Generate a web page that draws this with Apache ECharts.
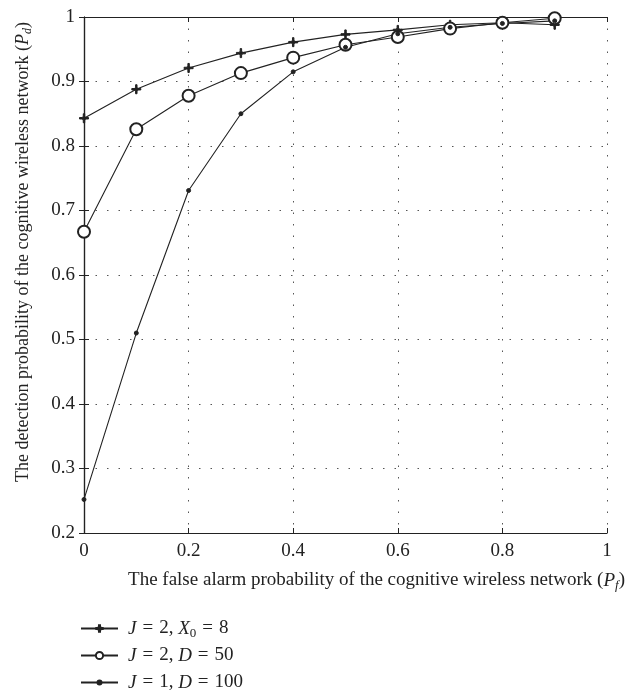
<!DOCTYPE html>
<html>
<head>
<meta charset="utf-8">
<script src="https://cdn.jsdelivr.net/npm/echarts@6/dist/echarts.min.js"></script>
<style>
html,body{margin:0;padding:0;background:#fff;}
#main{width:636px;height:692px;}
</style>
</head>
<body>
<div id="main"></div>
<script>
// false alarm probability (x)
var pfValues = [0, 0.1, 0.2, 0.3, 0.4, 0.5, 0.6, 0.7, 0.8, 0.9];
// detection probability, J = 2, X0 = 8
var pdStar = [0.843, 0.888, 0.921, 0.944, 0.961, 0.973, 0.980, 0.988, 0.991, 0.988];
// detection probability, J = 2, D = 50
var pdCircle = [0.667, 0.826, 0.878, 0.913, 0.937, 0.957, 0.969, 0.982, 0.991, 0.998];
// detection probability, J = 1, D = 100
var pdDot = [0.252, 0.510, 0.731, 0.850, 0.915, 0.953, 0.974, 0.984, 0.990, 0.994];
var seriesNames = ['J = 2, X0 = 8', 'J = 2, D = 50', 'J = 1, D = 100'];
var legendRich = {
	'J = 2, X0 = 8': '{g|}{i|J}{e|=}2, {i|X}{s|0}{e|=}8',
	'J = 2, D = 50': '{g|}{i|J}{e|=}2, {i|D}{e|=}50',
	'J = 1, D = 100': '{g|}{i|J}{e|=}1, {i|D}{e|=}100'
};

var FONT = '"Liberation Serif", "DejaVu Serif", serif';
var INK = '#222';
var FS = 19;

function pairs(ys) {
	var out = [];
	for (var i = 0; i < ys.length; i++) {
		out.push([pfValues[i], ys[i]]);
	}
	return out;
}

// small asterisk: plus with a thicker centre
var starPath = 'path://M4.2,0 L5.8,0 L5.8,3.5 L6.5,3.5 L6.5,4.2 L10,4.2 L10,5.8 L6.5,5.8 L6.5,6.5 L5.8,6.5 L5.8,10 L4.2,10 L4.2,6.5 L3.5,6.5 L3.5,5.8 L0,5.8 L0,4.2 L3.5,4.2 L3.5,3.5 L4.2,3.5 Z';

function nameRich(size) {
	return {
		n: {fontFamily: FONT, fontSize: size, color: INK},
		i: {fontFamily: FONT, fontSize: size, fontStyle: 'italic', color: INK},
		s: {fontFamily: FONT, fontSize: size - 6, fontStyle: 'italic', color: INK, padding: [10, 0, 0, 0]}
	};
}
var legendRichText = {
	g: {width: 5},
	i: {fontFamily: FONT, fontSize: FS, fontStyle: 'italic', color: INK},
	e: {fontFamily: FONT, fontSize: FS, color: INK, padding: [0, 6, 0, 6]},
	s: {fontFamily: FONT, fontSize: 13, color: INK, padding: [10, 0, 0, 0]}
};

function lineSeries(name, ys, symbol, size) {
	return {
		name: name,
		type: 'line',
		data: pairs(ys),
		symbol: symbol,
		symbolSize: size,
		showAllSymbol: true,
		animation: false,
		lineStyle: {color: INK, width: 1.1},
		itemStyle: {color: INK, borderColor: INK, borderWidth: 1}
	};
}

// one legend block per row so the rows stack like the reference
function legendRow(name, top, h) {
	return {
		orient: 'vertical',
		left: 75,
		top: top,
		itemWidth: 37,
		itemHeight: h,
		itemGap: 0,
		data: [name],
		formatter: function(n) { return legendRich[n]; },
		textStyle: {fontFamily: FONT, fontSize: FS, color: INK, rich: legendRichText}
	};
}

var gridLine = {show: true, lineStyle: {color: '#555', type: [1.5, 10], width: 1}};

var option = {
	backgroundColor: '#fff',
	animation: false,
	grid: {left: 84, right: 29, top: 17, bottom: 159},
	legend: [
		legendRow(seriesNames[0], 614, 8),
		legendRow(seriesNames[1], 641, 9),
		legendRow(seriesNames[2], 668, 5)
	],
	xAxis: [{
		type: 'value',
		min: 0, max: 1, interval: 0.2,
		name: '{n|The false alarm probability of the cognitive wireless network (}{i|P}{s|f}{n|)}',
		nameLocation: 'middle',
		nameGap: 36,
		nameTextStyle: {rich: nameRich(FS), padding: [0, 0, 0, 62]},
		axisLine: {show: true, lineStyle: {color: INK, width: 1.2}},
		axisTick: {show: true, inside: true, length: 5, lineStyle: {color: INK}},
		axisLabel: {fontFamily: FONT, fontSize: FS, color: INK, margin: 9},
		splitLine: gridLine
	}, {
		type: 'value', position: 'top',
		min: 0, max: 1, interval: 0.2,
		axisLine: {show: true, lineStyle: {color: INK, width: 1.2}},
		axisTick: {show: true, inside: true, length: 5, lineStyle: {color: INK}},
		axisLabel: {show: false},
		splitLine: {show: false}
	}],
	yAxis: [{
		type: 'value',
		min: 0.2, max: 1, interval: 0.1,
		name: '{n|The detection probability of the cognitive wireless network (}{i|P}{s|d}{n|)}',
		nameLocation: 'middle',
		nameGap: 50,
		nameRotate: 90,
		nameTextStyle: {rich: nameRich(18), padding: [0, 0, 0, 46]},
		axisLine: {show: true, lineStyle: {color: INK, width: 1.2}},
		axisTick: {show: true, inside: true, length: 5, lineStyle: {color: INK}},
		axisLabel: {fontFamily: FONT, fontSize: FS, color: INK, margin: 9,
			formatter: function(v) { return String(Math.round(v * 10) / 10); }},
		splitLine: gridLine
	}, {
		type: 'value', position: 'right',
		min: 0.2, max: 1, interval: 0.1,
		axisLine: {show: true, lineStyle: {color: INK, width: 1.2}},
		axisTick: {show: true, inside: true, length: 5, lineStyle: {color: INK}},
		axisLabel: {show: false},
		splitLine: {show: false}
	}],
	series: [
		lineSeries(seriesNames[0], pdStar, starPath, 9),
		lineSeries(seriesNames[1], pdCircle, 'emptyCircle', 12),
		lineSeries(seriesNames[2], pdDot, 'circle', 4)
	]
};

var myChart = echarts.init(document.getElementById('main'), null, {renderer: 'canvas'});
myChart.setOption(option);
</script>
</body>
</html>
